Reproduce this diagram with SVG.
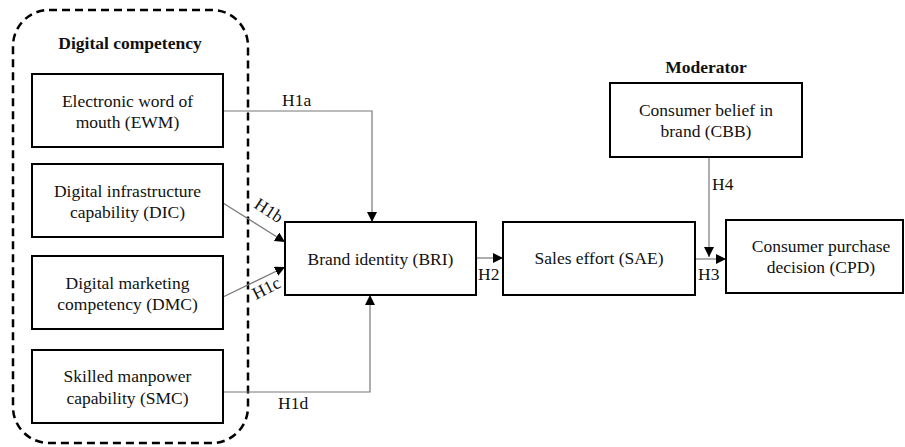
<svg xmlns="http://www.w3.org/2000/svg" width="905" height="447" viewBox="0 0 905 447">
<style>
.box{fill:#fff;stroke:#000;stroke-width:2}
.t{font-family:"Liberation Serif","Times New Roman",serif;font-size:17.5px;fill:#111;text-anchor:middle}
.b{font-weight:bold}
.lbl{font-family:"Liberation Serif","Times New Roman",serif;font-size:17.5px;fill:#111}
.c{fill:none;stroke:#777;stroke-width:1.2}
</style>
<defs>
<marker id="ah" viewBox="0 0 10 10" refX="10" refY="5" markerWidth="10" markerHeight="10" markerUnits="userSpaceOnUse" orient="auto">
<path d="M0,0 L10,5 L0,10 Z" fill="#000"/>
</marker>
</defs>
<rect width="905" height="447" fill="#fff"/>
<g id="group-digital">
<rect x="13" y="10" width="235" height="433" rx="36" ry="36" fill="none" stroke="#000" stroke-width="2.5" stroke-dasharray="8,5"/>
<text class="t b" x="130" y="49">Digital competency</text>
</g>
<g id="connectors">
<polyline class="c" points="223,111 372,111 372,222" marker-end="url(#ah)"/>
<line class="c" x1="223" y1="203" x2="285" y2="242" marker-end="url(#ah)"/>
<line class="c" x1="223" y1="297" x2="285" y2="267" marker-end="url(#ah)"/>
<polyline class="c" points="223,392 370,392 370,295" marker-end="url(#ah)"/>
<line class="c" x1="476" y1="258" x2="503" y2="258" marker-end="url(#ah)"/>
<line class="c" x1="695" y1="259" x2="726" y2="259" marker-end="url(#ah)"/>
<line class="c" x1="709" y1="157" x2="709" y2="257" marker-end="url(#ah)"/>
<text class="lbl" x="282" y="106">H1a</text>
<text class="lbl" x="0" y="0" transform="translate(253,207) rotate(33)">H1b</text>
<text class="lbl" x="0" y="0" transform="translate(256,300) rotate(-27)">H1c</text>
<text class="lbl" x="278" y="409">H1d</text>
<text class="lbl" x="478" y="280">H2</text>
<text class="lbl" x="698" y="280">H3</text>
<text class="lbl" x="712" y="190">H4</text>
</g>
<g id="EWM">
<rect class="box" x="32" y="74" width="191" height="73"/>
<text class="t" x="127.5" y="107">Electronic word of</text>
<text class="t" x="127.5" y="128">mouth (EWM)</text>
</g>
<g id="DIC">
<rect class="box" x="32" y="164" width="191" height="73"/>
<text class="t" x="127.5" y="197">Digital infrastructure</text>
<text class="t" x="127.5" y="218">capability (DIC)</text>
</g>
<g id="DMC">
<rect class="box" x="32" y="256" width="191" height="73"/>
<text class="t" x="127.5" y="289">Digital marketing</text>
<text class="t" x="127.5" y="310">competency (DMC)</text>
</g>
<g id="SMC">
<rect class="box" x="32" y="350" width="191" height="73"/>
<text class="t" x="127.5" y="382">Skilled manpower</text>
<text class="t" x="127.5" y="404">capability (SMC)</text>
</g>
<g id="BRI">
<rect class="box" x="285" y="222" width="191" height="73"/>
<text class="t" x="380.5" y="265">Brand identity (BRI)</text>
</g>
<g id="SAE">
<rect class="box" x="503" y="222" width="192" height="73"/>
<text class="t" x="599" y="264">Sales effort (SAE)</text>
</g>
<g id="CPD">
<rect class="box" x="726" y="220" width="177" height="73"/>
<text class="t" x="821" y="252">Consumer purchase</text>
<text class="t" x="821" y="273">decision (CPD)</text>
</g>
<g id="CBB">
<text class="t b" x="706" y="73">Moderator</text>
<rect class="box" x="610" y="83" width="192" height="74"/>
<text class="t" x="706" y="116">Consumer belief in</text>
<text class="t" x="706" y="137">brand (CBB)</text>
</g>
</svg>
